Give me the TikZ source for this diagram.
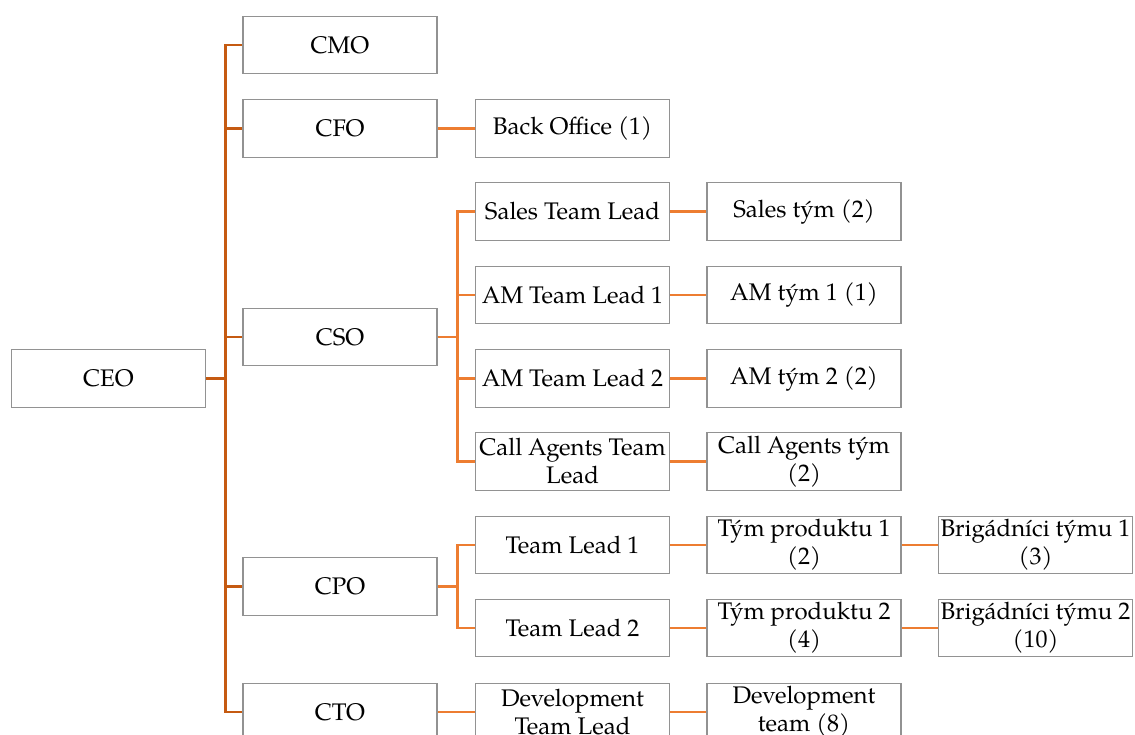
\documentclass[tikz,border=0pt]{standalone}
\usepackage{fontspec}
\setmainfont{TeX Gyre Pagella}
\begin{document}
\begin{tikzpicture}[x=1pt,y=-1pt,
  box/.style={draw=boxgray,line width=1.4pt,fill=white,minimum width=194pt,minimum height=57.5pt,
    inner sep=0pt,align=center,font=\fontsize{24}{28}\selectfont},
  conA/.style={draw=orangeA,line width=2.9pt},
  conB/.style={draw=orangeB,line width=2.9pt}]
\definecolor{boxgray}{HTML}{929292}
\definecolor{orangeA}{HTML}{C55A11}
\definecolor{orangeB}{HTML}{ED7D31}
\useasboundingbox (0,0) rectangle (1135,734);
\clip (0,0) rectangle (1135,734);
% column 0/1
\node[box] (ceo) at (108.5,378.5) {CEO};
\node[box] (cmo) at (340,45) {CMO};
\node[box] (cfo) at (340,128.5) {CFO};
\node[box] (cso) at (340,337) {CSO};
\node[box] (cpo) at (340,586.5) {CPO};
\node[box] (cto) at (340,712) {CTO};
% column 2
\node[box] (back) at (572.5,128.5) {Back Office (1)};
\node[box] (stl) at (572.5,211.5) {Sales Team Lead};
\node[box] (am1) at (572.5,295) {AM Team Lead 1};
\node[box] (am2) at (572.5,378.5) {AM Team Lead 2};
\node[box] (catl) at (572.5,461.5) {Call Agents Team\\Lead};
\node[box] (tl1) at (572.5,545) {Team Lead 1};
\node[box] (tl2) at (572.5,628) {Team Lead 2};
\node[box] (dtl) at (572.5,712) {Development\\Team Lead};
% column 3
\node[box] (st) at (804,211.5) {Sales tým (2)};
\node[box] (amt1) at (804,295) {AM tým 1 (1)};
\node[box] (amt2) at (804,378.5) {AM tým 2 (2)};
\node[box] (cat) at (804,461.5) {Call Agents tým\\(2)};
\node[box] (tp1) at (804,545) {Tým produktu 1\\(2)};
\node[box] (tp2) at (804,628) {Tým produktu 2\\(4)};
\node[box] (dt) at (804,712) {Development\\team (8)};
% column 4
\node[box] (br1) at (1035.5,545) {Brigádníci týmu 1\\(3)};
\node[box] (br2) at (1035.5,628) {Brigádníci týmu 2\\(10)};
% connectors CEO
\foreach \c in {cmo,cfo,cso,cpo,cto}
  \draw[conA] (ceo.east) -- ++(19,0) |- (\c.west);
% CFO
\draw[conB] (cfo.east) -- (back.west);
% CSO
\foreach \c in {stl,am1,am2,catl}
  \draw[conB] (cso.east) -- ++(19.5,0) |- (\c.west);
% CPO
\foreach \c in {tl1,tl2}
  \draw[conB] (cpo.east) -- ++(19.5,0) |- (\c.west);
% CTO
\draw[conB] (cto.east) -- (dtl.west);
% level 3
\draw[conB] (stl.east) -- (st.west);
\draw[conB] (am1.east) -- (amt1.west);
\draw[conB] (am2.east) -- (amt2.west);
\draw[conB] (catl.east) -- (cat.west);
\draw[conB] (tl1.east) -- (tp1.west);
\draw[conB] (tl2.east) -- (tp2.west);
\draw[conB] (dtl.east) -- (dt.west);
\draw[conB] (tp1.east) -- (br1.west);
\draw[conB] (tp2.east) -- (br2.west);
\end{tikzpicture}
\end{document}
